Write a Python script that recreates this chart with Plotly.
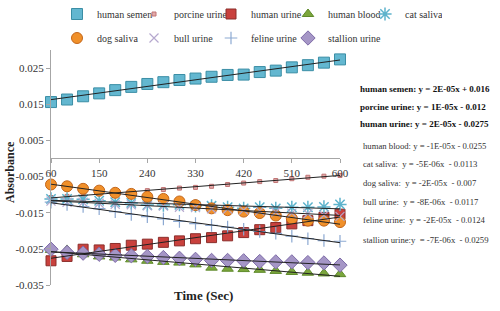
import numpy as np
import plotly.graph_objects as go

time_sec = [60, 90, 120, 150, 180, 210, 240, 270, 300, 330, 360, 390, 420, 450, 480, 510, 540, 570, 600]

human_semen = [0.0156, 0.0163, 0.0172, 0.0180, 0.0189, 0.0198, 0.0206, 0.0211, 0.0217, 0.0221,
               0.0226, 0.0231, 0.0232, 0.0239, 0.0243, 0.0252, 0.0258, 0.0265, 0.0274]
porcine_urine = [-0.0108, -0.0105, -0.0101, -0.0098, -0.0095, -0.0092, -0.0089, -0.0086, -0.0082, -0.0080,
                 -0.0077, -0.0072, -0.0068, -0.0064, -0.0061, -0.0056, -0.0052, -0.0049, -0.0047]
human_urine = [-0.0283, -0.0271, -0.0251, -0.0253, -0.0249, -0.0240, -0.0237, -0.0232, -0.0228, -0.0222,
               -0.0219, -0.0214, -0.0205, -0.0197, -0.0191, -0.0181, -0.0172, -0.0163, -0.0154]
human_blood = [-0.0253, -0.0253, -0.0265, -0.0271, -0.0274, -0.0279, -0.0283, -0.0286, -0.0288, -0.0293,
               -0.0302, -0.0305, -0.0306, -0.0308, -0.0311, -0.0314, -0.0316, -0.0318, -0.0320]
cat_saliva = [-0.0112, -0.0112, -0.0113, -0.0117, -0.0121, -0.0123, -0.0129, -0.0129, -0.0128, -0.0131,
              -0.0131, -0.0135, -0.0138, -0.0135, -0.0138, -0.0135, -0.0135, -0.0134, -0.0127]
dog_saliva = [-0.0072, -0.0077, -0.0084, -0.0089, -0.0095, -0.0098, -0.0106, -0.0112, -0.0119, -0.0129,
              -0.0138, -0.0143, -0.0147, -0.0151, -0.0158, -0.0166, -0.0172, -0.0172, -0.0176]
bull_urine = [-0.0118, -0.0121, -0.0121, -0.0124, -0.0127, -0.0128, -0.0131, -0.0132, -0.0135, -0.0136,
              -0.0139, -0.0140, -0.0143, -0.0145, -0.0148, -0.0151, -0.0153, -0.0157, -0.0160]
feline_urine = [-0.0121, -0.0127, -0.0133, -0.0139, -0.0147, -0.0155, -0.0161, -0.0167, -0.0174, -0.0180,
                -0.0185, -0.0190, -0.0196, -0.0202, -0.0207, -0.0215, -0.0222, -0.0227, -0.0229]
stallion_urine = [-0.0251, -0.0260, -0.0262, -0.0265, -0.0268, -0.0269, -0.0271, -0.0274, -0.0276, -0.0279,
                  -0.0282, -0.0282, -0.0283, -0.0285, -0.0286, -0.0286, -0.0288, -0.0289, -0.0295]

equations = [
    "human semen: y = 2E-05x + 0.016",
    "porcine urine: y = 1E-05x - 0.012",
    "human urine: y = 2E-05x - 0.0275",
    "human blood: y = -1E-05x - 0.0255",
    "cat saliva:  y = -5E-06x  - 0.0113",
    "dog saliva:  y = -2E-05x  - 0.007",
    "bull urine:  y = -8E-06x  - 0.0117",
    "feline urine:  y = -2E-05x  - 0.0124",
    "stallion urine:y  = -7E-06x  - 0.0259",
]
equation_bold = [True, True, True, False, False, False, False, False, False]

y_tickvals = [-0.035, -0.025, -0.015, -0.005, 0.005, 0.015, 0.025]
y_ticktext = ["-0.035", "-0.025", "-0.015", "-0.005", "0.005", "0.015", "0.025"]
x_tickvals = [60, 150, 240, 330, 420, 510, 600]

FONT = "Liberation Serif"

series = [
    ("human semen", human_semen, dict(symbol="square", size=11, color="#63B7D0", line=dict(color="#3B8EA5", width=1)), "legend"),
    ("porcine urine", porcine_urine, dict(symbol="square", size=4, color="#E3A9A9", line=dict(color="#C07575", width=1)), "legend"),
    ("human urine", human_urine, dict(symbol="square", size=10, color="#C9413D", line=dict(color="#8B2E2B", width=1)), "legend"),
    ("human blood", human_blood, dict(symbol="triangle-up", size=10, color="#7BA63C", line=dict(color="#5E8A2A", width=1)), "legend"),
    ("cat saliva", cat_saliva, dict(symbol="asterisk-open", size=11, color="#5DB3CC", line=dict(color="#5DB3CC", width=1.5)), "legend"),
    ("dog saliva", dog_saliva, dict(symbol="circle", size=11, color="#F0902A", line=dict(color="#C4661A", width=1)), "legend2"),
    ("bull urine", bull_urine, dict(symbol="x-thin-open", size=9, color="#B5A8CE", line=dict(color="#B5A8CE", width=1.2)), "legend2"),
    ("feline urine", feline_urine, dict(symbol="cross-thin-open", size=9, color="#8CA9D2", line=dict(color="#8CA9D2", width=1.2)), "legend2"),
    ("stallion urine", stallion_urine, dict(symbol="diamond", size=11, color="#A596C6", line=dict(color="#7E6CA8", width=1)), "legend2"),
]

fig = go.Figure()
x = np.array(time_sec, dtype=float)
for name, vals, mk, lg in series:
    fig.add_trace(go.Scatter(x=time_sec, y=vals, mode="markers", name=name, marker=mk,
                             cliponaxis=False, legend=lg))
# empty spacer entry so the last legend-2 label is not clipped by the legend box
fig.add_trace(go.Scatter(x=[None], y=[None], mode="markers", name=" ", legend="legend2",
                         marker=dict(color="rgba(0,0,0,0)", size=1), hoverinfo="skip"))
for name, vals, mk, lg in series:
    m, b = np.polyfit(x, np.array(vals), 1)
    xs = [time_sec[0], time_sec[-1]]
    fig.add_trace(go.Scatter(x=xs, y=[m * xs[0] + b, m * xs[1] + b], mode="lines",
                             line=dict(color="#222222", width=1), showlegend=False,
                             hoverinfo="skip", cliponaxis=False))

y_lo, y_hi = -0.035, 0.03
zero_pos = (0 - y_lo) / (y_hi - y_lo)

L, R, T, B = 51, 160, 50, 26
PW, PH = 500 - L - R, 311 - T - B


def px_x(p):
    return (p - L) / PW


def px_y(p):
    return (311 - B - p) / PH


LEG_SHIFT = 9
fig.update_layout(
    width=500, height=311,
    margin=dict(l=L, r=R, t=T, b=B, autoexpand=False),
    paper_bgcolor="white", plot_bgcolor="white",
    font=dict(family=FONT, size=11, color="#333333"),
    xaxis=dict(range=[60, 600], tickvals=x_tickvals, showgrid=False, zeroline=False,
               showline=True, linecolor="#A6A6A6", linewidth=1, ticks="outside",
               ticklen=4, tickcolor="#A6A6A6", anchor="free", position=zero_pos,
               automargin=False,
               tickfont=dict(family=FONT, size=11, color="#333333")),
    yaxis=dict(range=[y_lo, y_hi], tickvals=y_tickvals, ticktext=y_ticktext, showgrid=False,
               zeroline=False, showline=True, linecolor="#A6A6A6", linewidth=1,
               ticks="outside", ticklen=4, tickcolor="#A6A6A6", automargin=False,
               tickfont=dict(family=FONT, size=11, color="#333333")),
    legend=dict(orientation="h", xref="paper", yref="paper", x=px_x(433 + LEG_SHIFT), y=px_y(14),
                xanchor="right", yanchor="middle", entrywidth=32, itemwidth=30,
                font=dict(family=FONT, size=10, color="#333333"), bgcolor="rgba(0,0,0,0)"),
    legend2=dict(orientation="h", xref="paper", yref="paper", x=px_x(433 + LEG_SHIFT), y=px_y(38),
                 xanchor="right", yanchor="middle", entrywidth=32, itemwidth=30,
                 font=dict(family=FONT, size=10, color="#333333"), bgcolor="rgba(0,0,0,0)"),
)

fig.add_annotation(text="<b>Absorbance</b>", xref="paper", yref="paper", x=px_x(10), y=px_y(172),
                   textangle=-90, xanchor="center", yanchor="middle", showarrow=False,
                   font=dict(family=FONT, size=12, color="#222222"))
fig.add_annotation(text="<b>Time (Sec)</b>", xref="paper", yref="paper", x=px_x(203), y=px_y(295),
                   yanchor="middle", showarrow=False,
                   font=dict(family=FONT, size=13, color="#222222"))

eq_y = [89, 107, 124, 146, 164, 183, 202, 220, 240]
eq_x = [358, 358, 358, 361, 361, 361, 361, 361, 361]
for txt, bold, yy, xx in zip(equations, equation_bold, eq_y, eq_x):
    fig.add_annotation(text=f"<b>{txt}</b>" if bold else txt, xref="paper", yref="paper",
                       x=px_x(xx), y=px_y(yy), xanchor="left", yanchor="middle", showarrow=False,
                       font=dict(family=FONT, size=9 if bold else 8.7,
                                 color="#111111" if bold else "#333333"))

fig.write_html("out.html", config={"displayModeBar": False},
               post_script="document.body.style.margin='0';")
